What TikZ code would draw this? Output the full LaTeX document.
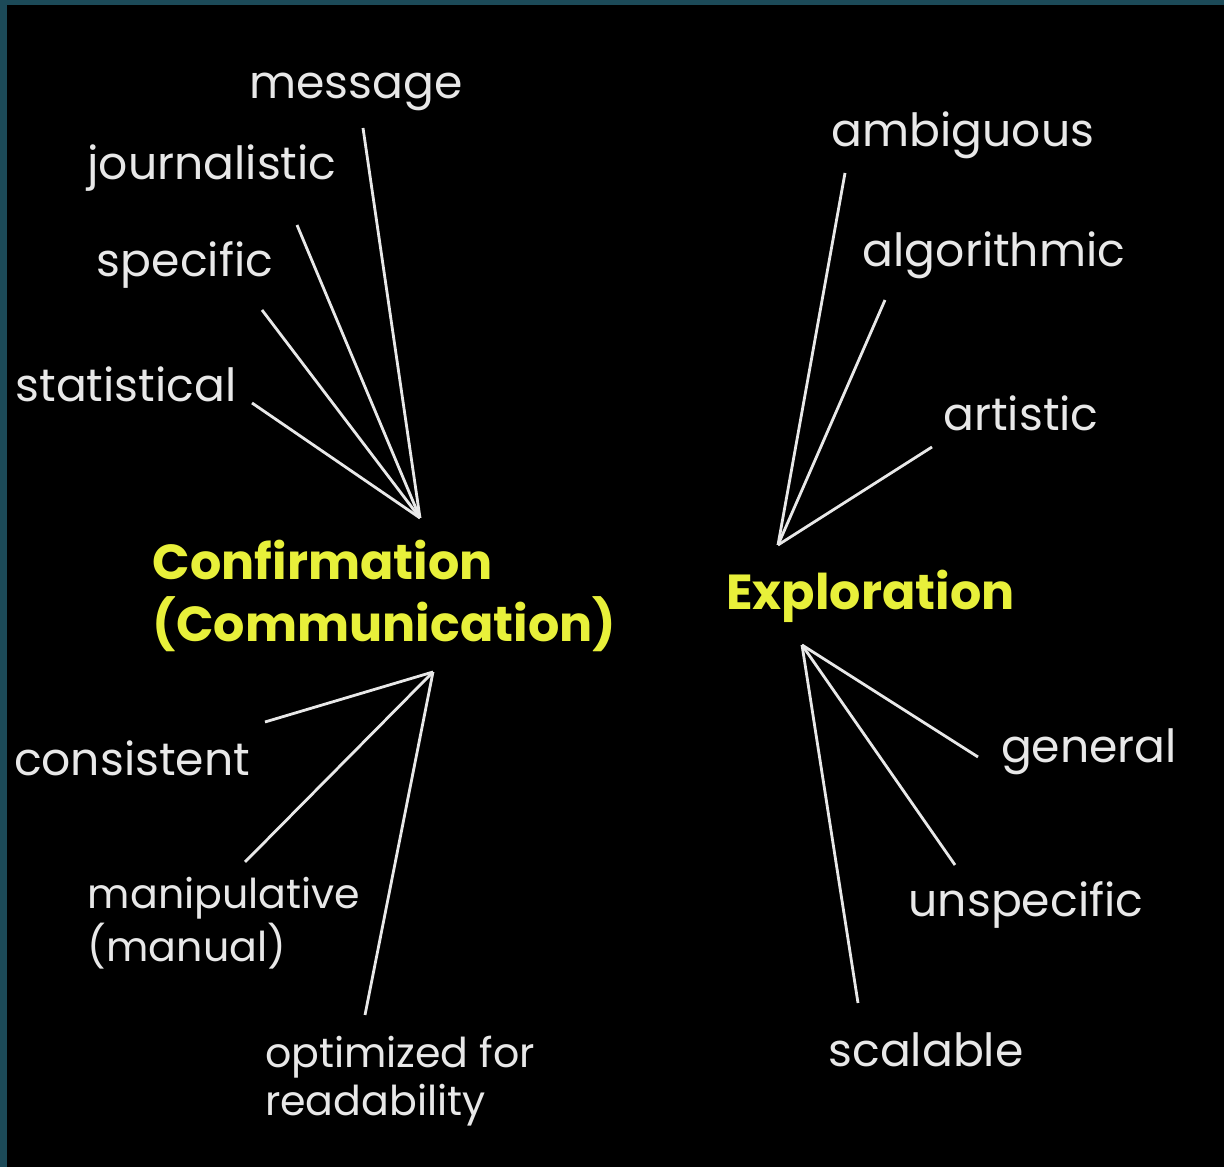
\documentclass[tikz,border=0pt]{standalone}
\usepackage{fontspec}
\setmainfont{Poppins}
\definecolor{bgteal}{RGB}{28,74,88}
\definecolor{lblwhite}{RGB}{232,232,232}
\definecolor{ttlyellow}{RGB}{232,240,58}
\tikzset{
  word/.style={text=lblwhite, inner sep=0pt, align=left, font=\fontsize{13}{13.5}\selectfont},
  smallword/.style={word, font=\fontsize{11.7}{13.6}\selectfont},
  title/.style={text=ttlyellow, inner sep=0pt, align=left, font=\bfseries\fontsize{14}{17.5}\selectfont},
  spoke/.style={draw=lblwhite, thick}
}
\begin{document}
\begin{tikzpicture}
\fill[bgteal] (0,0) rectangle (12.24,11.67);
\fill[black] (0.07,0) rectangle (12.24,11.62); %background

% titles
\node[title] (conf) at (3.845,5.71) {Confirmation\\(Communication)};
\node[title] (expl) at (8.705,5.71) {Exploration};

\coordinate (conf-top) at (4.20,6.49);
\coordinate (conf-bot) at (4.33,4.95);
\coordinate (expl-top) at (7.78,6.22);
\coordinate (expl-bot) at (8.02,5.22);

% left labels
\node[word] (msg)   at (3.56,10.75) {message};
\node[word] (journ) at (2.12,9.99)  {journalistic};
\node[word] (spec)  at (1.85,9.02)  {specific};
\node[word] (stat)  at (1.26,7.83)  {statistical};
\node[word] (cons)  at (1.32,4.09)  {consistent};
\node[smallword] (manip) at (2.24,2.44)  {manipulative\\(manual)};
\node[smallword] (optim) at (4.00,0.86)  {optimized for\\readability};

% right labels
\node[word] (ambig)  at (9.63,10.32) {ambiguous};
\node[word] (algo)   at (9.94,9.12)  {algorithmic};
\node[word] (art)    at (10.21,7.54) {artistic};
\node[word] (gen)    at (10.89,4.15) {general};
\node[word] (unspec) at (10.26,2.62) {unspecific};
\node[word] (scal)   at (9.26,1.17)  {scalable};

\coordinate (msg-end)    at (3.63,10.39);
\coordinate (journ-end)  at (2.97,9.42);
\coordinate (spec-end)   at (2.62,8.57);
\coordinate (stat-end)   at (2.52,7.64);
\coordinate (cons-end)   at (2.65,4.45);
\coordinate (manip-end)  at (2.45,3.05);
\coordinate (optim-end)  at (3.65,1.52);
\coordinate (ambig-end)  at (8.45,9.94);
\coordinate (algo-end)   at (8.85,8.67);
\coordinate (art-end)    at (9.32,7.20);
\coordinate (gen-end)    at (9.78,4.10);
\coordinate (unspec-end) at (9.55,3.02);
\coordinate (scal-end)   at (8.58,1.64);

\draw[spoke] (msg-end) -- (conf-top);
\draw[spoke] (journ-end) -- (conf-top);
\draw[spoke] (spec-end) -- (conf-top);
\draw[spoke] (stat-end) -- (conf-top);

\draw[spoke] (cons-end) -- (conf-bot);
\draw[spoke] (manip-end) -- (conf-bot);
\draw[spoke] (optim-end) -- (conf-bot);

\draw[spoke] (ambig-end) -- (expl-top);
\draw[spoke] (algo-end) -- (expl-top);
\draw[spoke] (art-end) -- (expl-top);

\draw[spoke] (gen-end) -- (expl-bot);
\draw[spoke] (unspec-end) -- (expl-bot);
\draw[spoke] (scal-end) -- (expl-bot);

\end{tikzpicture}
\end{document}
